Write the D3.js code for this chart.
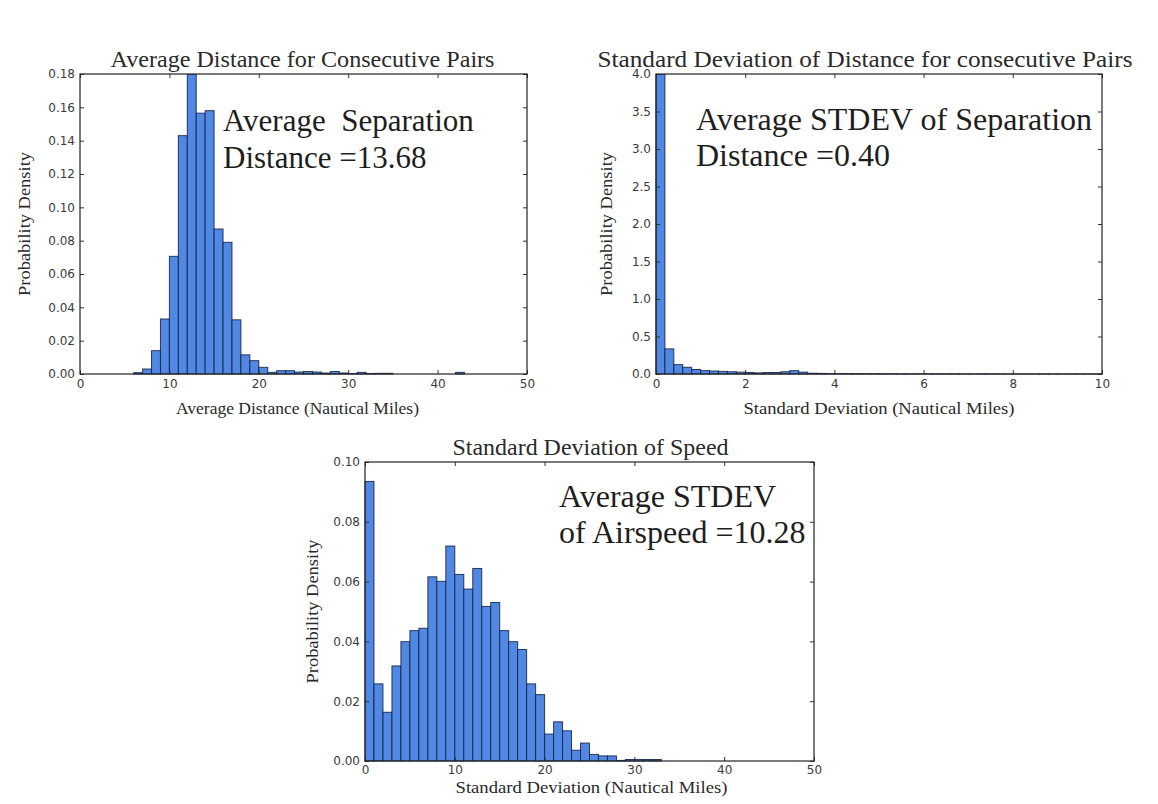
<!DOCTYPE html>
<html>
<head>
<meta charset="utf-8">
<script src="https://cdn.jsdelivr.net/npm/d3@7"></script>
<style>
  html, body { margin: 0; padding: 0; background: #ffffff; }
  svg { display: block; }
</style>
</head>
<body>
<svg id="chart" width="1158" height="804"></svg>
<script>
// ---------- DATA ----------
// Panel 1: Average Distance for Consecutive Pairs (bins of width 1 from 0 to 50)
const distBinStart = 0;
const distBinWidth = 1;
const distDensity = [
  0, 0, 0, 0, 0, 0, 0.0008, 0.003, 0.014, 0.033,
  0.0706, 0.143, 0.18, 0.1565, 0.158, 0.087, 0.079, 0.0325, 0.0115, 0.008,
  0.004, 0.001, 0.002, 0.002, 0.0012, 0.0015, 0.0012, 0.0006, 0.0015, 0.0006,
  0.0003, 0.001, 0.0003, 0.0004, 0.0004, 0, 0, 0, 0, 0,
  0, 0, 0.001, 0, 0, 0, 0, 0, 0, 0
];
const distXTicks = [0, 10, 20, 30, 40, 50];
const distYTicks = [0, 0.02, 0.04, 0.06, 0.08, 0.10, 0.12, 0.14, 0.16, 0.18];

// Panel 2: Standard Deviation of Distance (bins of width 0.2 from 0 to 10)
const sdDistBinStart = 0;
const sdDistBinWidth = 0.2;
const sdDistDensity = [
  4.0, 0.335, 0.125, 0.09, 0.06, 0.045, 0.04, 0.035, 0.03, 0.025,
  0.02, 0.015, 0.02, 0.02, 0.03, 0.045, 0.025, 0.01, 0.008, 0.006,
  0.005, 0.005, 0.004, 0.004, 0.003, 0.003, 0.003, 0.002, 0.002, 0.002,
  0.002, 0.002, 0.002, 0.002, 0.001, 0.001, 0.002, 0.002, 0.001, 0.001,
  0.001, 0.001, 0.001, 0.001, 0.001, 0.001, 0.001, 0.001, 0.001, 0.001
];
const sdDistXTicks = [0, 2, 4, 6, 8, 10];
const sdDistYTicks = [0, 0.5, 1.0, 1.5, 2.0, 2.5, 3.0, 3.5, 4.0];

// Panel 3: Standard Deviation of Speed (bins of width 1 from 0 to 50)
const sdSpeedBinStart = 0;
const sdSpeedBinWidth = 1;
const sdSpeedDensity = [
  0.0935, 0.0258, 0.0163, 0.0318, 0.0399, 0.0436, 0.0444, 0.0616, 0.0601, 0.0719,
  0.0624, 0.0575, 0.0644, 0.0517, 0.053, 0.0436, 0.0399, 0.0373, 0.0258, 0.0222,
  0.009, 0.0131, 0.0101, 0.0036, 0.006, 0.0022, 0.0017, 0.0017, 0.0002, 0.0005,
  0.0005, 0.0005, 0.0005, 0, 0, 0, 0, 0, 0, 0,
  0, 0, 0, 0, 0, 0, 0, 0, 0, 0
];
const sdSpeedXTicks = [0, 10, 20, 30, 40, 50];
const sdSpeedYTicks = [0, 0.02, 0.04, 0.06, 0.08, 0.10];

// Text
const titles = [
  "Average Distance for Consecutive Pairs",
  "Standard Deviation of Distance for consecutive Pairs",
  "Standard Deviation of Speed"
];
const xLabels = [
  "Average Distance (Nautical Miles)",
  "Standard Deviation (Nautical Miles)",
  "Standard Deviation (Nautical Miles)"
];
const yLabel = "Probability Density";
const notes = [
  ["Average  Separation", "Distance =13.68"],
  ["Average STDEV of Separation", "Distance =0.40"],
  ["Average STDEV", "of Airspeed =10.28"]
];

// ---------- DRAWING ----------
const svg = d3.select("#chart");
const BAR_FILL = "#5088e4";
const BAR_STROKE = "#14213f";
const SERIF = "'Liberation Serif', 'Times New Roman', serif";
const SANS = "'DejaVu Sans', sans-serif";

function drawPanel(cfg) {
  const w = cfg.x1 - cfg.x0, h = cfg.y1 - cfg.y0;
  const g = svg.append("g").attr("transform", `translate(${cfg.x0},${cfg.y0})`);
  const x = d3.scaleLinear().domain(cfg.xDomain).range([0, w]);
  const y = d3.scaleLinear().domain(cfg.yDomain).range([h, 0]);

  const bins = cfg.values.map((v, i) => ({
    a: cfg.binStart + i * cfg.binWidth,
    b: cfg.binStart + (i + 1) * cfg.binWidth,
    v: v
  })).filter(d => d.v > 0);

  const clipId = "clip" + cfg.id;
  g.append("clipPath").attr("id", clipId)
    .append("rect").attr("x", -1).attr("y", 0).attr("width", w + 2).attr("height", h + 1);

  g.append("g").attr("clip-path", `url(#${clipId})`)
    .selectAll("rect").data(bins).join("rect")
    .attr("x", d => x(d.a))
    .attr("y", d => y(Math.min(d.v, cfg.yDomain[1])))
    .attr("width", d => x(d.b) - x(d.a))
    .attr("height", d => y(0) - y(Math.min(d.v, cfg.yDomain[1])))
    .attr("fill", BAR_FILL)
    .attr("stroke", BAR_STROKE)
    .attr("stroke-width", 1)
    .attr("stroke-opacity", 0.85);

  // axes
  const axB = g.append("g").attr("transform", `translate(0,${h})`)
    .call(d3.axisBottom(x).tickValues(cfg.xTicks).tickSize(-4).tickPadding(cfg.xPad)
      .tickFormat(cfg.xFormat));
  const axL = g.append("g")
    .call(d3.axisLeft(y).tickValues(cfg.yTicks).tickSize(-4).tickPadding(5)
      .tickFormat(cfg.yFormat));
  const axT = g.append("g")
    .call(d3.axisTop(x).tickValues(cfg.xTicks).tickSize(-4).tickFormat(""));
  const axR = g.append("g").attr("transform", `translate(${w},0)`)
    .call(d3.axisRight(y).tickValues(cfg.yTicks).tickSize(-4).tickFormat(""));
  [axB, axL, axT, axR].forEach(a => {
    a.select(".domain").remove();
    a.selectAll("line").attr("stroke", "#333");
    a.selectAll("text").attr("font-family", SANS).attr("font-size", 12).attr("fill", "#3a3a3a");
  });

  g.append("rect").attr("width", w).attr("height", h)
    .attr("fill", "none").attr("stroke", "#222").attr("stroke-width", 1.2);

  // title
  g.append("text").attr("x", w / 2 + cfg.titleDx).attr("y", -7)
    .attr("text-anchor", "middle").attr("font-family", SERIF)
    .attr("font-size", 23).attr("fill", "#2a2a2a")
    .attr("textLength", cfg.titleLen).attr("lengthAdjust", "spacingAndGlyphs")
    .text(cfg.title);
  // x label
  g.append("text").attr("x", w / 2 + cfg.xLabelDx).attr("y", h + cfg.xLabelDy)
    .attr("text-anchor", "middle").attr("font-family", SERIF)
    .attr("font-size", 17).attr("fill", "#2a2a2a")
    .attr("textLength", cfg.xLabelLen).attr("lengthAdjust", "spacingAndGlyphs")
    .text(cfg.xLabel);
  // y label
  g.append("text").attr("transform", `translate(${cfg.yLabelX},${h / 2}) rotate(-90)`)
    .attr("text-anchor", "middle").attr("font-family", SERIF)
    .attr("font-size", 17).attr("fill", "#2a2a2a")
    .attr("textLength", 144).attr("lengthAdjust", "spacingAndGlyphs")
    .text(yLabel);
  // annotation
  const t = g.append("text").attr("font-family", SERIF).attr("font-size", cfg.noteSize).attr("fill", "#1e1e1e");
  cfg.note.forEach((line, i) => {
    t.append("tspan").attr("x", cfg.noteX).attr("y", cfg.noteY + i * cfg.noteLead)
      .attr("xml:space", "preserve").text(line);
  });
}

drawPanel({
  id: 1, x0: 80, x1: 527, y0: 74, y1: 374,
  xDomain: [0, 50], yDomain: [0, 0.18],
  binStart: distBinStart, binWidth: distBinWidth, values: distDensity,
  xTicks: distXTicks, yTicks: distYTicks, xPad: 5,
  xFormat: d3.format("d"), yFormat: d3.format(".2f"),
  title: titles[0], titleDx: -1, titleLen: 384,
  xLabel: xLabels[0], xLabelDx: -6, xLabelDy: 40, xLabelLen: 243, yLabelX: -50,
  note: notes[0], noteX: 143, noteY: 57, noteLead: 37, noteSize: 31
});

drawPanel({
  id: 2, x0: 656, x1: 1102, y0: 74, y1: 374,
  xDomain: [0, 10], yDomain: [0, 4.0],
  binStart: sdDistBinStart, binWidth: sdDistBinWidth, values: sdDistDensity,
  xTicks: sdDistXTicks, yTicks: sdDistYTicks, xPad: 5,
  xFormat: d3.format("d"), yFormat: d3.format(".1f"),
  title: titles[1], titleDx: -14, titleLen: 535,
  xLabel: xLabels[1], xLabelDx: 0, xLabelDy: 40, xLabelLen: 271, yLabelX: -44,
  note: notes[1], noteX: 40, noteY: 56, noteLead: 36, noteSize: 32
});

drawPanel({
  id: 3, x0: 365, x1: 814, y0: 462, y1: 761,
  xDomain: [0, 50], yDomain: [0, 0.10],
  binStart: sdSpeedBinStart, binWidth: sdSpeedBinWidth, values: sdSpeedDensity,
  xTicks: sdSpeedXTicks, yTicks: sdSpeedYTicks, xPad: 4,
  xFormat: d3.format("d"), yFormat: d3.format(".2f"),
  title: titles[2], titleDx: 1, titleLen: 276,
  xLabel: xLabels[2], xLabelDx: 2, xLabelDy: 32, xLabelLen: 272, yLabelX: -47,
  note: notes[2], noteX: 194, noteY: 45, noteLead: 36, noteSize: 32
});
</script>
</body>
</html>
